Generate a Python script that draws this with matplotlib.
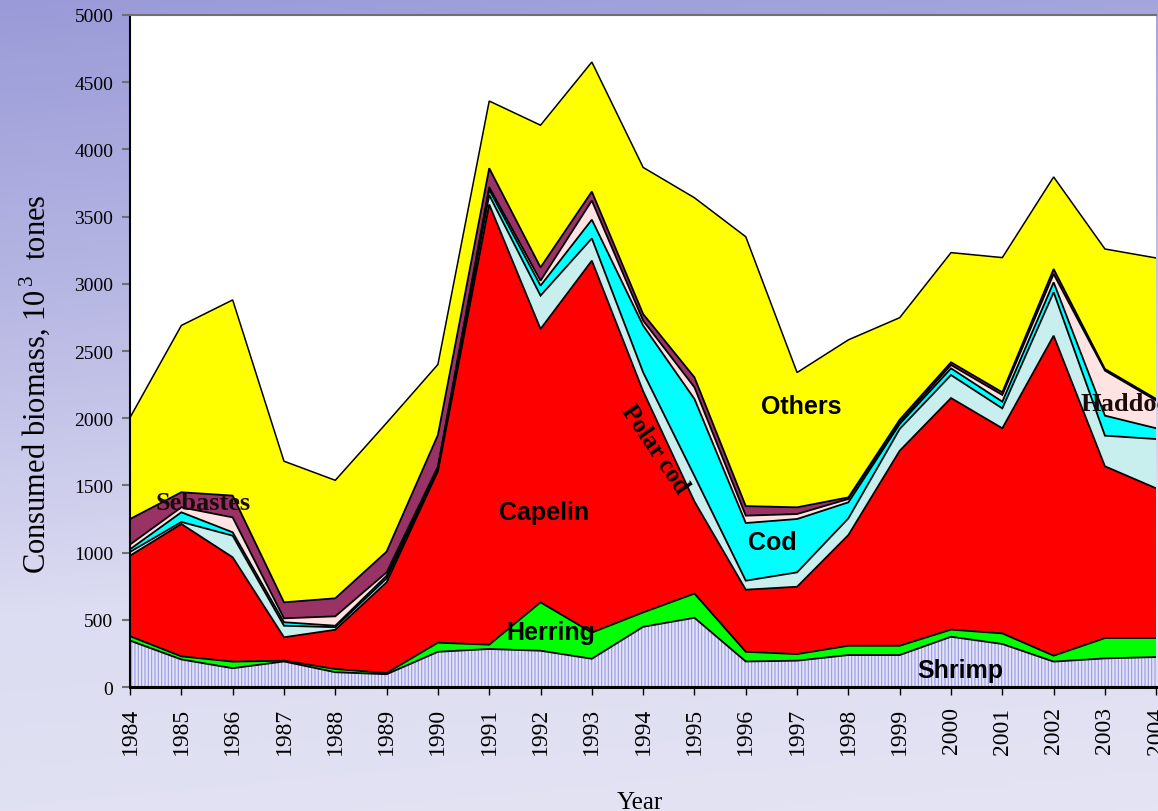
import numpy as np
import matplotlib
matplotlib.use("Agg")
import matplotlib.pyplot as plt
from matplotlib.colors import LinearSegmentedColormap

# ---------------- data (10^3 tones, per layer) ----------------
years = list(range(1984, 2005))
shrimp    = [345, 205, 140, 190, 110,  95, 262, 283, 270, 210, 448, 515, 190, 196, 238, 238, 374, 320, 189, 213, 223]
herring   = [ 33,  23,  49,   6,  24,   9,  68,  32, 360, 195, 107, 180,  72,  49,  69,  69,  53,  79,  44, 151, 141]
capelin   = [599, 985, 776, 174, 292, 675,1275,3275,2034,2767,1645, 685, 462, 501, 824,1451,1723,1526,2381,1278,1114]
polar_cod = [ 28,  15, 161,  86,  19,  29,  15,  70, 248, 166, 141, 190,  67, 107, 124, 162, 171, 148, 323, 228, 367]
cod       = [ 20,  72,  25,  26,  11,  20,  10,  40,  74, 139, 348, 573, 429, 397, 119,  37,  50,  50,  74, 149,  80]
haddock   = [ 35,  37, 111,  29,  70,  25,  10,  20,  37, 142,  37,  87,  55,  37,  25,  12,  25,  50,  62, 335, 206]
sebastes  = [190, 112, 162, 119, 134, 154, 235, 140,  99,  67,  49,  74,  71,  50,  12,  20,  20,  20,  37,  12,  12]
others    = [755,1241,1456,1050, 878, 958, 525, 500,1058, 964,1091,1336,2004,1003,1172, 759, 816,1002, 685, 893,1049]

series_names = ["Shrimp", "Herring", "Capelin", "Polar cod", "Cod", "Haddock", "Sebastes", "Others"]
y_ticks = list(range(0, 5001, 500))

# ---------------- styling ----------------
fills = ["#e2e2fa", "#00ff00", "#ff0000", "#c8eeee", "#00ffff", "#ffe2e2", "#993366", "#ffff00"]
hatches = ["|||||", None, None, None, None, None, None, None]
hatch_cols = ["#9898e0", None, None, None, None, None, None, None]

plt.rcParams["hatch.linewidth"] = 0.8
plt.rcParams["mathtext.fontset"] = "custom"
plt.rcParams["mathtext.rm"] = "Liberation Serif"
serif = ["Liberation Serif", "DejaVu Serif"]
sans = ["Liberation Sans", "DejaVu Sans"]

fig = plt.figure(figsize=(11.58, 8.12), dpi=100)

# background gradient
bg = fig.add_axes([0, 0, 1, 1], zorder=0)
cmap = LinearSegmentedColormap.from_list("bgc", ["#9a9ad8", "#b8b8e4", "#dcdcf2", "#e4e4f4"])
yy = np.linspace(0, 1, 256)[:, None]
xx = np.linspace(0, 1, 256)[None, :]
grad = yy * 0.85 + xx * 0.12
bg.imshow(grad, aspect="auto", cmap=cmap, extent=[0, 1, 1, 0], origin="upper")
bg.set_axis_off()

ax = fig.add_axes([0.1123, 0.1527, 0.8862, 0.8276], zorder=1)
ax.set_facecolor("white")

layers = [shrimp, herring, capelin, polar_cod, cod, haddock, sebastes, others]
x = np.array(years)
lower = np.zeros(len(years))
tops = []
for vals, fc, h, hc in zip(layers, fills, hatches, hatch_cols):
    top = lower + np.array(vals, dtype=float)
    if h:
        ax.fill_between(x, lower, top, facecolor=fc, hatch=h, edgecolor=hc, linewidth=0, zorder=2)
    else:
        ax.fill_between(x, lower, top, facecolor=fc, linewidth=0, zorder=2)
    tops.append(top)
    lower = top
for i, top in enumerate(tops):
    ax.plot(x, top, color="black", lw=1.3 if i < len(tops) - 1 else 1.1, zorder=3, solid_joinstyle="miter")

ax.set_xlim(1984, 2004)
ax.set_ylim(0, 5000)
ax.set_xticks(years)
ax.set_xticklabels([str(y) for y in years], rotation=90, fontfamily=serif, fontsize=17)
ax.set_yticks(y_ticks)
ax.set_yticklabels([str(v) for v in y_ticks], fontfamily=serif, fontsize=14)
ax.tick_params(axis="y", direction="out", length=6, width=1.5, color="#707070", pad=6)
ax.tick_params(axis="x", direction="out", length=6, width=1.0, color="black", pad=8)

ax.spines["top"].set_color("#707070")
ax.spines["top"].set_linewidth(1.5)
ax.spines["left"].set_color("black")
ax.spines["left"].set_linewidth(1.5)
ax.spines["bottom"].set_color("black")
ax.spines["bottom"].set_linewidth(2.2)
ax.spines["right"].set_visible(False)

ax.set_xlabel("Year", fontfamily=serif, fontsize=18)
ax.xaxis.set_label_coords(0.497, -0.155)
ax.set_ylabel("Consumed biomass, 10$^{\\,3}$  tones", fontfamily=serif, fontsize=22)
ax.yaxis.set_label_coords(-0.076, 0.452)

# in-plot labels
ax.text(1992.07, 1302, "Capelin", fontfamily=sans, fontweight="bold", fontsize=18, ha="center", va="center", zorder=5)
ax.text(1992.21, 409, "Herring", fontfamily=sans, fontweight="bold", fontsize=18, ha="center", va="center", zorder=5)
ax.text(1997.08, 2091, "Others", fontfamily=sans, fontweight="bold", fontsize=18, ha="center", va="center", zorder=5)
ax.text(1996.51, 1079, "Cod", fontfamily=sans, fontweight="bold", fontsize=18, ha="center", va="center", zorder=5)
ax.text(2000.18, 129, "Shrimp", fontfamily=sans, fontweight="bold", fontsize=18, ha="center", va="center", zorder=5)
ax.text(1985.42, 1376, "Sebastes", fontfamily=serif, fontweight="bold", fontsize=19, ha="center", va="center", color="#1a0a0a", zorder=5)
ax.text(2002.52, 2106, "Haddock", fontfamily=serif, fontweight="bold", fontsize=19, ha="left", va="center", color="#1a0a0a", zorder=5, clip_on=False)
ax.text(1994.23, 1771, "Polar cod", fontfamily=serif, fontweight="bold", fontsize=18, ha="center", va="center", rotation=-56, rotation_mode="anchor", zorder=5)

fig.savefig("out.png", dpi=100)
